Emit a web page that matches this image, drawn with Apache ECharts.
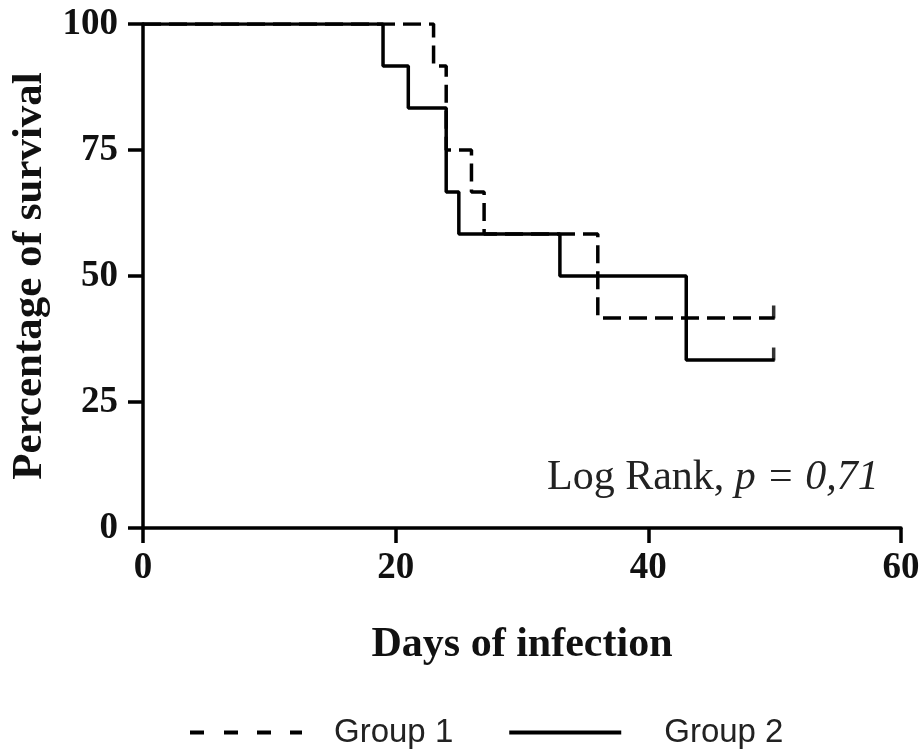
<!DOCTYPE html>
<html>
<head>
<meta charset="utf-8">
<script src="https://cdn.jsdelivr.net/npm/echarts@6/dist/echarts.min.js"></script>
<style>
html,body{margin:0;padding:0;background:#fff;}
#chart{width:924px;height:751px;}
</style>
</head>
<body>
<div id="chart"></div>
<script>
// Kaplan-Meier steps
var group1Days = [0, 23, 24, 26, 27, 36, 50];
var group1Surv = [100, 91.67, 75, 66.67, 58.33, 41.67, 41.67];
var group2Days = [0, 19, 21, 24, 25, 33, 43, 50];
var group2Surv = [100, 91.67, 83.33, 66.67, 58.33, 50, 33.33, 33.33];
// censored observations
var group1CensorDays = [50];
var group1CensorSurv = [41.67];
var group2CensorDays = [50];
var group2CensorSurv = [33.33];
var xTicks = [0, 20, 40, 60];
var yTicks = [0, 25, 50, 75, 100];
var seriesNames = ['Group 1', 'Group 2'];
var pText = 'p = 0,71';

function pairs(xs, ys) { return xs.map(function (x, i) { return [x, ys[i]]; }); }

var serif = '"Liberation Serif", "Times New Roman", serif';
var sans = '"Liberation Sans", Arial, sans-serif';
var chart = echarts.init(document.getElementById('chart'), null, {renderer: 'canvas'});
chart.setOption({
  backgroundColor: '#fff',
  animation: false,
  grid: {left: 143, right: 23, top: 24, bottom: 223, containLabel: false},
  xAxis: {
    type: 'value', min: xTicks[0], max: xTicks[xTicks.length - 1], interval: 20,
    name: 'Days of infection', nameLocation: 'middle', nameGap: 96,
    nameTextStyle: {fontFamily: serif, fontWeight: 'bold', fontSize: 42, color: '#111'},
    axisLine: {show: true, onZero: false, lineStyle: {color: '#000', width: 3.5}},
    axisTick: {show: true, length: 15, lineStyle: {color: '#000', width: 3.5}},
    axisLabel: {margin: 22, fontFamily: serif, fontWeight: 'bold', fontSize: 37, color: '#111'},
    splitLine: {show: false}
  },
  yAxis: {
    type: 'value', min: yTicks[0], max: yTicks[yTicks.length - 1], interval: 25,
    name: 'Percentage of survival', nameLocation: 'middle', nameGap: 92,
    nameTextStyle: {fontFamily: serif, fontWeight: 'bold', fontSize: 43, color: '#111'},
    axisLine: {show: true, onZero: false, lineStyle: {color: '#000', width: 3.5}},
    axisTick: {show: true, length: 15, lineStyle: {color: '#000', width: 3.5}},
    axisLabel: {margin: 25, fontFamily: serif, fontWeight: 'bold', fontSize: 37, color: '#111'},
    splitLine: {show: false}
  },
  legend: {
    top: 711, left: 185, itemGap: 56, itemWidth: 112, itemHeight: 4,
    symbolKeepAspect: false,
    textStyle: {fontFamily: sans, fontSize: 33, color: '#222', padding: [0, 0, 0, 27]},
    data: [
      {name: seriesNames[0], icon: 'path://M0,0L14,0L14,4L0,4Z M34,0L48,0L48,4L34,4Z M67,0L81,0L81,4L67,4Z M100,0L112,0L112,4L100,4Z', itemStyle: {color: '#000'}},
      {name: seriesNames[1], icon: 'rect', itemStyle: {color: '#000'},
       textStyle: {fontFamily: sans, fontSize: 33, color: '#222', padding: [0, 0, 0, 38]}}
    ]
  },
  title: {
    left: 542, top: 452,
    text: '{a|Log Rank, }{b|' + pText + '}',
    textStyle: {
      fontWeight: 'normal',
      rich: {
        a: {fontFamily: serif, fontSize: 42, fontWeight: 'normal', color: '#222'},
        b: {fontFamily: serif, fontSize: 42, fontWeight: 'normal', fontStyle: 'italic', color: '#222'}
      }
    }
  },
  series: [
    {
      name: seriesNames[0], type: 'line', step: 'end', symbol: 'none', z: 2,
      data: pairs(group1Days, group1Surv),
      lineStyle: {color: '#000', width: 3.5, type: [18, 8]},
      itemStyle: {color: '#000'}
    },
    {
      name: seriesNames[1], type: 'line', step: 'end', symbol: 'none', z: 3,
      data: pairs(group2Days, group2Surv),
      lineStyle: {color: '#000', width: 3.5, type: 'solid'},
      itemStyle: {color: '#000'}
    },
    {
      name: 'censor1', type: 'scatter', symbol: 'rect', symbolSize: [3.5, 13], symbolOffset: [-1, -6],
      data: pairs(group1CensorDays, group1CensorSurv), itemStyle: {color: '#000'}, z: 4
    },
    {
      name: 'censor2', type: 'scatter', symbol: 'rect', symbolSize: [3.5, 13], symbolOffset: [-1, -6],
      data: pairs(group2CensorDays, group2CensorSurv), itemStyle: {color: '#000'}, z: 4
    }
  ]
});
</script>
</body>
</html>
